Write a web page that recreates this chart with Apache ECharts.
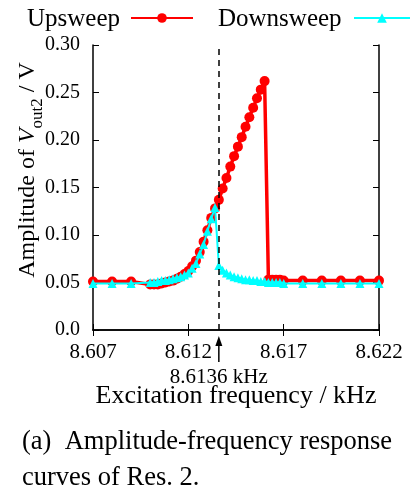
<!DOCTYPE html>
<html>
<head>
<meta charset="utf-8">
<script src="https://cdn.jsdelivr.net/npm/echarts@6/dist/echarts.min.js"></script>
<style>
  html, body { margin: 0; padding: 0; background: #fff; }
  #chart { width: 413px; height: 493px; }
</style>
</head>
<body>
<div id="chart"></div>
<script>
// frequency grid (kHz), shared by both sweeps
let freq = [
    8.607, 8.608, 8.609,
    8.6100, 8.6102, 8.6104, 8.6106, 8.6108, 8.6110, 8.6112, 8.6114, 8.6116, 8.6118,
    8.6120, 8.6122, 8.6124, 8.6126, 8.6128, 8.6130, 8.6132, 8.6134, 8.6136, 8.6138,
    8.6140, 8.6142, 8.6144, 8.6146, 8.6148, 8.6150, 8.6152, 8.6154, 8.6156, 8.6158,
    8.6160, 8.6162, 8.6164, 8.6166, 8.6168, 8.6170,
    8.618, 8.619, 8.620, 8.621, 8.622
];
let upsweep = [
    0.051, 0.051, 0.051,
    0.048, 0.048, 0.048, 0.049, 0.050, 0.051, 0.052, 0.054, 0.056, 0.059,
    0.062, 0.067, 0.073, 0.082, 0.093, 0.105, 0.118, 0.128, 0.137, 0.149,
    0.160, 0.172, 0.183, 0.193, 0.203, 0.214, 0.224, 0.234, 0.244, 0.253,
    0.262, 0.053, 0.053, 0.053, 0.053, 0.052,
    0.052, 0.052, 0.052, 0.052, 0.052
];
let downsweep = [
    0.049, 0.049, 0.049,
    0.050, 0.050, 0.051, 0.052, 0.052, 0.053, 0.054, 0.055, 0.056, 0.058,
    0.060, 0.065, 0.070, 0.080, 0.090, 0.104, 0.117, 0.129, 0.068, 0.063,
    0.060, 0.058, 0.056, 0.055, 0.054, 0.053, 0.053, 0.052, 0.052, 0.051,
    0.051, 0.050, 0.050, 0.050, 0.050, 0.049,
    0.049, 0.049, 0.049, 0.049, 0.049
];
let xTicks = [8.607, 8.612, 8.617, 8.622];
let jumpFreq = 8.6136;

const font = 'Liberation Serif';
let myChart = echarts.init(document.getElementById('chart'));

const frameX = {
    type: 'value', min: 8.607, max: 8.622,
    splitLine: {show: false},
    axisLine: {lineStyle: {color: '#000', width: 1.5}},
    axisTick: {inside: true, length: 6, customValues: xTicks, lineStyle: {color: '#000'}},
};
const frameY = {
    type: 'value', min: 0, max: 0.3, interval: 0.05,
    splitLine: {show: false},
    axisLine: {show: true, lineStyle: {color: '#000', width: 1.5}},
    axisTick: {show: true, inside: true, length: 6, lineStyle: {color: '#000'}},
};
// legend keys only (names are drawn as text to the left of them)
const legendStyle = {
    top: 12, padding: 0,
    itemWidth: 62, itemHeight: 12,
    formatter: () => '',
    textStyle: {fontSize: 1},
};

let option = {
    animation: false,
    textStyle: {fontFamily: font},
    legend: [
        {...legendStyle, left: 130, data: ['Upsweep']},
        {...legendStyle, left: 353, itemWidth: 56, data: ['Downsweep']}
    ],
    grid: {left: 93, right: 34, top: 45, bottom: 163},
    xAxis: [
        {...frameX, position: 'bottom',
            axisLabel: {customValues: xTicks, margin: 12, fontSize: 21, color: '#000', fontFamily: font,
                formatter: v => v.toFixed(3)}},
        {...frameX, position: 'top', axisLabel: {show: false}}
    ],
    yAxis: [
        {...frameY, position: 'left',
            axisLabel: {margin: 13, fontSize: 20, color: '#000', fontFamily: font,
                formatter: v => v === 0 ? '0.0' : v.toFixed(2)}},
        {...frameY, position: 'right', axisLabel: {show: false}}
    ],
    series: [
        {
            name: 'Upsweep', type: 'line',
            data: freq.map((f, i) => [f, upsweep[i]]),
            symbol: 'circle', symbolSize: 10, showAllSymbol: true,
            itemStyle: {color: '#ff0000'},
            lineStyle: {color: '#ff0000', width: 3.5},
            z: 2,
            markLine: {
                silent: true, symbol: 'none',
                label: {show: false},
                lineStyle: {color: '#000', type: [6, 5], width: 1.5},
                data: [[{coord: [jumpFreq, 0]}, {coord: [jumpFreq, 0.3]}]]
            }
        },
        {
            name: 'Downsweep', type: 'line',
            data: freq.map((f, i) => [f, downsweep[i]]),
            symbol: 'triangle', symbolSize: 9, showAllSymbol: true,
            itemStyle: {color: '#00ffff'},
            lineStyle: {color: '#00ffff', width: 2},
            z: 3
        }
    ]
};
myChart.setOption(option);

// annotation arrow + labels, placed through the axis scale
let px = myChart.convertToPixel({xAxisIndex: 0}, jumpFreq);
myChart.setOption({
    graphic: [
        {type: 'text', x: 27, y: 19, style: {text: 'Upsweep', fontFamily: font, fontSize: 25,
            fill: '#000', verticalAlign: 'middle'}},
        {type: 'text', x: 218, y: 19, style: {text: 'Downsweep', fontFamily: font, fontSize: 25,
            fill: '#000', verticalAlign: 'middle'}},
        {type: 'line', shape: {x1: px, y1: 362, x2: px, y2: 342}, style: {stroke: '#000', lineWidth: 1.5}},
        {type: 'polygon', shape: {points: [[px, 336], [px - 3.5, 346], [px + 3.5, 346]]}, style: {fill: '#000'}},
        {type: 'text', x: px, y: 377, style: {text: '8.6136 kHz', fontFamily: font, fontSize: 21,
            fill: '#000', align: 'center', verticalAlign: 'middle'}},
        {type: 'text', x: 236, y: 396, style: {text: 'Excitation frequency / kHz', fontFamily: font, fontSize: 26,
            fill: '#000', align: 'center', verticalAlign: 'middle'}},
        {type: 'text', x: 28, y: 170, rotation: Math.PI / 2,
            style: {
                text: '{n|Amplitude of }{i|V}{s|out2}{n| / V}',
                align: 'center', verticalAlign: 'middle', fill: '#000',
                rich: {
                    n: {fontFamily: font, fontSize: 24, fill: '#000'},
                    i: {fontFamily: font, fontSize: 24, fontStyle: 'italic', fill: '#000'},
                    s: {fontFamily: font, fontSize: 17, fill: '#000', verticalAlign: 'bottom', padding: [0, 0, -6, 0]}
                }
            }},
        {type: 'text', x: 22, y: 442, style: {text: '(a)  Amplitude-frequency response', fontFamily: font,
            fontSize: 26.5, fill: '#000', verticalAlign: 'middle'}},
        {type: 'text', x: 22, y: 478, style: {text: 'curves of Res. 2.', fontFamily: font,
            fontSize: 26.5, fill: '#000', verticalAlign: 'middle'}}
    ]
});
</script>
</body>
</html>
